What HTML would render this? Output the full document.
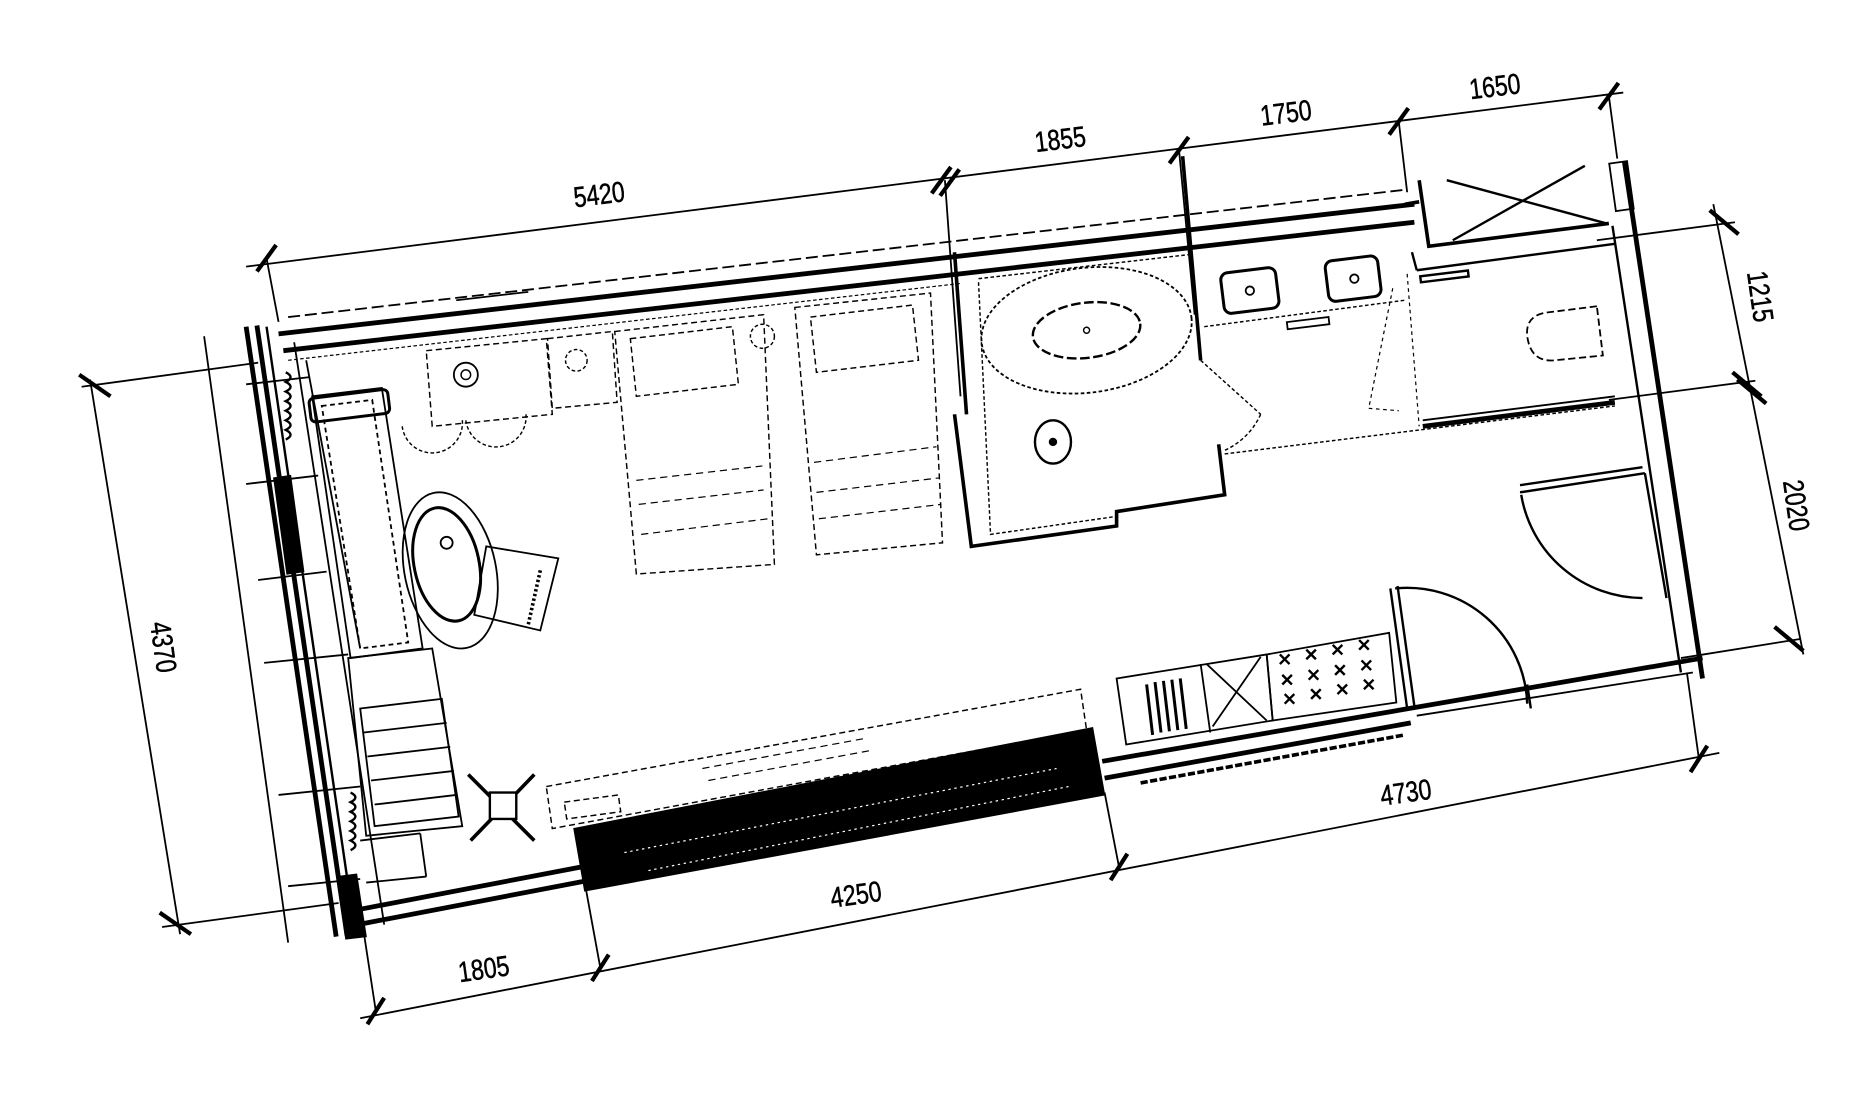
<!DOCTYPE html>
<html><head><meta charset="utf-8"><style>
html,body{margin:0;padding:0;background:#fff;}
svg{display:block;}
text{font-family:"Liberation Sans",sans-serif;font-size:24px;fill:#000;}
</style></head><body>
<svg width="1861" height="1100" viewBox="0 0 1550 916" xmlns="http://www.w3.org/2000/svg">
<g fill="none" stroke="#000">
<!-- TOP DIMENSIONS -->
<g stroke-width="1.5">
<line x1="205" y1="222" x2="1352" y2="77"/>
<line x1="222" y1="215" x2="232" y2="268"/>
<line x1="787" y1="150" x2="800" y2="330"/>
<line x1="982" y1="125" x2="995" y2="262"/>
<line x1="1165" y1="101" x2="1172" y2="160"/>
<line x1="1340" y1="80" x2="1347" y2="132"/>
</g>
<g stroke-width="3.5">
<line x1="214" y1="226" x2="230" y2="204"/>
<line x1="776" y1="161" x2="792" y2="139"/>
<line x1="783" y1="163" x2="799" y2="141"/>
<line x1="974" y1="136" x2="990" y2="114"/>
<line x1="1157" y1="112" x2="1173" y2="90"/>
<line x1="1332" y1="91" x2="1348" y2="69"/>
</g>
<!-- RIGHT DIMENSIONS -->
<g stroke-width="1.5">
<line x1="1427" y1="170" x2="1502" y2="545"/>
<line x1="1330" y1="200" x2="1445" y2="185"/>
<line x1="1340" y1="333" x2="1462" y2="317"/>
<line x1="1400" y1="548" x2="1500" y2="532"/>
</g>
<g stroke-width="3.5">
<line x1="1424" y1="175" x2="1448" y2="195"/>
<line x1="1443" y1="310" x2="1467" y2="330"/>
<line x1="1447" y1="316" x2="1471" y2="336"/>
<line x1="1478" y1="522" x2="1502" y2="542"/>
</g>
<!-- LEFT DIMENSION -->
<g stroke-width="1.5">
<line x1="75" y1="316" x2="150" y2="778"/>
<line x1="68" y1="322" x2="215" y2="302"/>
<line x1="135" y1="772" x2="282" y2="752"/>
<line x1="170" y1="280" x2="240" y2="785"/>
</g>
<g stroke-width="3.5">
<line x1="66" y1="312" x2="92" y2="330"/>
<line x1="133" y1="760" x2="159" y2="778"/>
</g>
<!-- BOTTOM DIMENSIONS -->
<g stroke-width="1.5">
<line x1="300" y1="848" x2="1432" y2="627"/>
<line x1="313" y1="842" x2="302" y2="770"/>
<line x1="500" y1="806" x2="487" y2="735"/>
<line x1="932" y1="722" x2="920" y2="660"/>
<line x1="1415" y1="632" x2="1405" y2="560"/>
</g>
<g stroke-width="3.5">
<line x1="306" y1="853" x2="320" y2="831"/>
<line x1="493" y1="817" x2="507" y2="795"/>
<line x1="925" y1="733" x2="939" y2="711"/>
<line x1="1408" y1="643" x2="1422" y2="621"/>
</g>

<!-- WALLS -->
<g stroke-width="4">
<line x1="205" y1="272" x2="280" y2="780"/>
<line x1="214" y1="271" x2="289" y2="779"/>
</g>
<line x1="222" y1="272" x2="296" y2="778" stroke-width="2"/>
<polygon points="228,398 242,396 253,476 239,478" fill="#000"/>
<polygon points="281,730 297,728 305,780 288,782" fill="#000"/>
<g stroke-width="1.5">
<line x1="245" y1="285" x2="320" y2="770"/>
<line x1="255" y1="300" x2="300" y2="540"/>
</g>
<g stroke-width="2">
<path d="M238 310 q8 4 0 8 q8 4 0 8 q8 4 0 8 q8 4 0 8 q8 4 0 8 q8 4 0 8 q8 4 0 8"/>
<path d="M292 660 q8 4 0 8 q8 4 0 8 q8 4 0 8 q8 4 0 8 q8 4 0 8 q8 4 0 8"/>
</g>
<g stroke-width="1.5">
<line x1="205" y1="320" x2="258" y2="314"/>
<line x1="205" y1="403" x2="265" y2="396"/>
<line x1="215" y1="483" x2="272" y2="476"/>
<line x1="220" y1="552" x2="290" y2="545"/>
<line x1="232" y1="662" x2="300" y2="655"/>
<line x1="240" y1="738" x2="300" y2="732"/>
</g>
<g stroke-width="4">
<line x1="232" y1="278" x2="1178" y2="170"/>
<line x1="236" y1="292" x2="1178" y2="185"/>
</g>
<line x1="240" y1="264" x2="1170" y2="158" stroke-width="1.5" stroke-dasharray="10 4"/>
<line x1="380" y1="250" x2="440" y2="243" stroke-width="1.5"/>
<line x1="240" y1="300" x2="800" y2="236" stroke-width="1" stroke-dasharray="3 2"/>
<line x1="1353" y1="135" x2="1418" y2="565" stroke-width="4"/>
<line x1="1343" y1="188" x2="1400" y2="560" stroke-width="2"/>
<rect x="1343" y="135" width="15" height="40" stroke-width="1.5" transform="rotate(-8 1350 155)"/>
<g stroke-width="4">
<line x1="296" y1="758" x2="484" y2="722"/>
<line x1="298" y1="770" x2="486" y2="734"/>
<line x1="918" y1="634" x2="1418" y2="548"/>
<line x1="920" y1="648" x2="1175" y2="602"/>
</g>
<line x1="1180" y1="596" x2="1410" y2="560" stroke-width="1.5"/>
<line x1="950" y1="652" x2="1170" y2="612" stroke-width="3" stroke-dasharray="6 2"/>
<polygon points="478,690 910,606 920,662 487,742" fill="#000"/>
<g stroke="#fff" stroke-width="1" stroke-dasharray="2 3">
<line x1="520" y1="710" x2="880" y2="640"/>
<line x1="540" y1="725" x2="890" y2="655"/>
</g>

<!-- BATHROOM -->
<g stroke-width="3">
<line x1="795" y1="210" x2="805" y2="345"/>
<polyline points="795,345 809,455 930,438 930,426 1020,412 1015,370"/>
<line x1="985" y1="130" x2="1000" y2="300"/>
</g>
<g stroke-width="1.2" stroke-dasharray="3 2">
<polyline points="815,235 825,445 930,430"/>
<line x1="815" y1="232" x2="990" y2="212"/>
<line x1="1000" y1="300" x2="1050" y2="345"/>
<path d="M1050 345 A60 60 0 0 1 1020 375"/>
<line x1="1020" y1="378" x2="1345" y2="338"/>
<line x1="1003" y1="272" x2="1170" y2="250"/>
<line x1="1003" y1="205" x2="1170" y2="185"/>
</g>
<ellipse cx="905" cy="275" rx="88" ry="52" stroke-width="1.5" stroke-dasharray="3 2" transform="rotate(-7 905 275)"/>
<ellipse cx="905" cy="275" rx="45" ry="23" stroke-width="2" stroke-dasharray="8 3" transform="rotate(-7 905 275)"/>
<circle cx="905" cy="275" r="2.5" stroke-width="1.2"/>
<ellipse cx="877" cy="368" rx="15" ry="18" stroke-width="2"/>
<circle cx="877" cy="368" r="3" fill="#000"/>
<rect x="1018" y="225" width="46" height="34" rx="6" stroke-width="2.5" transform="rotate(-7 1040 242)"/>
<circle cx="1041" cy="242" r="3.5" stroke-width="1.5"/>
<rect x="1105" y="215" width="44" height="34" rx="6" stroke-width="2.5" transform="rotate(-7 1127 232)"/>
<circle cx="1128" cy="232" r="3.5" stroke-width="1.5"/>
<rect x="1072" y="266" width="35" height="6" stroke-width="1.5" transform="rotate(-7 1090 269)"/>
<path d="M1330 255 L1290 260 Q1270 262 1272 280 Q1275 302 1295 300 L1335 296 Z" stroke-width="1.5" stroke-dasharray="6 3"/>
<rect x="1183" y="228" width="40" height="5" stroke-width="2" transform="rotate(-7 1200 230)"/>
<line x1="1185" y1="355" x2="1345" y2="335" stroke-width="4"/>
<line x1="1185" y1="350" x2="1345" y2="330" stroke-width="1.5"/>
<g stroke-width="3">
<polyline points="1182,150 1190,205 1340,186"/>
<line x1="1170" y1="170" x2="1182" y2="168"/>
</g>
<g stroke-width="2">
<line x1="1205" y1="150" x2="1338" y2="186"/>
<line x1="1210" y1="200" x2="1320" y2="138"/>
<line x1="1176" y1="210" x2="1180" y2="225"/>
</g>
<line x1="1180" y1="225" x2="1345" y2="203" stroke-width="2"/>
<line x1="1172" y1="228" x2="1182" y2="355" stroke-width="1" stroke-dasharray="3 3"/>
<path d="M1160 240 L1140 340 L1165 342" stroke-width="1" stroke-dasharray="3 3"/>

<!-- DOORS -->
<g stroke-width="2">
<line x1="1266" y1="410" x2="1370" y2="394"/>
<line x1="1266" y1="404" x2="1368" y2="389"/>
<path d="M1267 412 A103 103 0 0 0 1368 498"/>
<line x1="1370" y1="394" x2="1388" y2="498"/>
<line x1="1158" y1="490" x2="1172" y2="590"/>
<line x1="1164" y1="488" x2="1178" y2="588"/>
<path d="M1162 490 A100 100 0 0 1 1272 586"/>
<line x1="1272" y1="570" x2="1275" y2="590"/>
</g>

<!-- LUGGAGE / MINIBAR -->
<g stroke-width="1.5">
<polygon points="1055,545 1157,527 1163,585 1060,600"/>
<polygon points="930,565 1055,545 1060,600 938,620"/>
<line x1="1000" y1="553" x2="1008" y2="610"/>
<line x1="1005" y1="553" x2="1055" y2="600"/>
<line x1="1050" y1="547" x2="1010" y2="605"/>
</g>
<g stroke-width="2.5">
<line x1="955" y1="570" x2="960" y2="612"/><line x1="962" y1="568" x2="967" y2="610"/>
<line x1="969" y1="567" x2="974" y2="609"/><line x1="976" y1="566" x2="981" y2="608"/>
<line x1="983" y1="565" x2="988" y2="607"/>
</g>
<g stroke-width="2">
<path d="M1066 545 l8 8 m0 -8 l-8 8 M1088 541 l8 8 m0 -8 l-8 8 M1110 537 l8 8 m0 -8 l-8 8 M1132 533 l8 8 m0 -8 l-8 8
M1068 562 l8 8 m0 -8 l-8 8 M1090 558 l8 8 m0 -8 l-8 8 M1112 554 l8 8 m0 -8 l-8 8 M1134 550 l8 8 m0 -8 l-8 8
M1070 578 l8 8 m0 -8 l-8 8 M1092 574 l8 8 m0 -8 l-8 8 M1114 570 l8 8 m0 -8 l-8 8 M1136 566 l8 8 m0 -8 l-8 8"/>
</g>

<!-- BEDROOM FURNITURE -->
<g stroke-width="1.2" stroke-dasharray="5 3">
<polygon points="512,276 636,262 645,470 530,478"/>
<polygon points="662,256 775,244 785,452 680,462"/>
<polygon points="525,282 610,272 615,320 530,330"/>
<polygon points="675,264 760,254 765,300 680,310"/>
<polygon points="456,282 510,276 514,335 460,340"/>
<polygon points="355,292 455,282 460,345 360,355"/>
<polygon points="455,655 900,574 905,608 460,690"/>
<polygon points="470,668 515,662 517,676 472,682"/>
</g>
<g stroke-width="1" stroke-dasharray="6 4">
<line x1="530" y1="400" x2="635" y2="388"/><line x1="532" y1="420" x2="636" y2="408"/>
<line x1="534" y1="445" x2="640" y2="432"/><line x1="678" y1="385" x2="780" y2="372"/>
<line x1="680" y1="410" x2="782" y2="398"/><line x1="682" y1="432" x2="784" y2="420"/>
<line x1="585" y1="640" x2="720" y2="615"/><line x1="590" y1="650" x2="725" y2="625"/>
</g>
<circle cx="480" cy="300" r="9" stroke-width="1.2" stroke-dasharray="3 2"/>
<circle cx="635" cy="280" r="10" stroke-width="1.2" stroke-dasharray="3 2"/>
<circle cx="388" cy="312" r="10" stroke-width="1.5"/>
<circle cx="388" cy="312" r="4" stroke-width="1.2"/>
<g stroke-width="1.2" stroke-dasharray="3 2">
<path d="M335 355 a25 25 0 0 0 50 -6"/>
<path d="M388 350 a25 25 0 0 0 50 -6"/>
</g>
<g stroke-width="1.5">
<polygon points="260,330 318,323 352,540 292,548"/>
<polygon points="268,338 310,333 340,535 300,540" stroke-dasharray="4 3"/>
</g>
<rect x="258" y="328" width="66" height="20" rx="4" stroke-width="2.5" transform="rotate(-7 290 338)"/>
<ellipse cx="375" cy="475" rx="38" ry="66" stroke-width="1.5" transform="rotate(-12 375 475)"/>
<ellipse cx="372" cy="470" rx="27" ry="48" stroke-width="2.5" transform="rotate(-12 372 470)"/>
<circle cx="372" cy="452" r="5" stroke-width="1.5"/>
<polygon points="405,455 465,465 450,525 395,512" stroke-width="1.5"/>
<line x1="450" y1="475" x2="440" y2="520" stroke-width="3" stroke-dasharray="2 2"/>
<g stroke-width="1.5">
<polygon points="290,548 360,540 385,688 305,696"/>
<polygon points="300,590 368,582 382,680 312,688"/>
<line x1="303" y1="610" x2="372" y2="602"/><line x1="306" y1="630" x2="375" y2="622"/>
<line x1="309" y1="650" x2="378" y2="642"/><line x1="312" y1="670" x2="380" y2="662"/>
<line x1="300" y1="700" x2="350" y2="694"/><line x1="305" y1="735" x2="355" y2="730"/>
<line x1="350" y1="694" x2="355" y2="730"/>
</g>
<g stroke-width="3">
<line x1="390" y1="645" x2="445" y2="700"/>
<line x1="445" y1="645" x2="392" y2="700"/>
</g>
<rect x="408" y="660" width="22" height="22" fill="#fff" stroke-width="2"/>
</g>

<!-- LABELS -->
<g stroke="#000" stroke-width="0.4">
<text transform="translate(500,170) rotate(-7) scale(0.8,1)" text-anchor="middle">5420</text>
<text transform="translate(884,124) rotate(-7) scale(0.8,1)" text-anchor="middle">1855</text>
<text transform="translate(1072,102) rotate(-7) scale(0.8,1)" text-anchor="middle">1750</text>
<text transform="translate(1246,80) rotate(-7) scale(0.8,1)" text-anchor="middle">1650</text>
<text transform="translate(1458,248) rotate(82) scale(0.8,1)" text-anchor="middle">1215</text>
<text transform="translate(1488,422) rotate(82) scale(0.8,1)" text-anchor="middle">2020</text>
<text transform="translate(128,540) rotate(82) scale(0.8,1)" text-anchor="middle">4370</text>
<text transform="translate(404,815) rotate(-8) scale(0.8,1)" text-anchor="middle">1805</text>
<text transform="translate(714,753) rotate(-8) scale(0.8,1)" text-anchor="middle">4250</text>
<text transform="translate(1172,668) rotate(-8) scale(0.8,1)" text-anchor="middle">4730</text>
</g>
</svg>
</body></html>
